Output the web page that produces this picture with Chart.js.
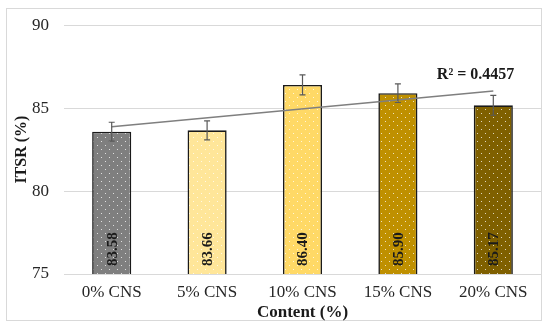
<!DOCTYPE html>
<html><head><meta charset="utf-8">
<script src="https://cdn.jsdelivr.net/npm/chart.js@4"></script>
<style>html,body{margin:0;padding:0;background:#fff}#wrap{width:550px;height:329px}</style>
</head><body><div id="wrap"><canvas id="c" width="550" height="329"></canvas></div>
<script>
const categories = ['0% CNS','5% CNS','10% CNS','15% CNS','20% CNS'];
const itsr = [83.58, 83.66, 86.40, 85.90, 85.17];
const errors = [0.57, 0.57, 0.6, 0.56, 0.6];
const trend = [83.88, null, null, null, 86.04];
const yTicks = [75, 80, 85, 90];
const r2Label = 'R² = 0.4457';
const barColors = ['#7f7f7f','#ffe699','#ffd966','#bf9000','#7f6000'];

function dotted(color){
  const t=document.createElement('canvas');t.width=8;t.height=8;
  const g=t.getContext('2d');g.fillStyle=color;g.fillRect(0,0,8,8);
  g.fillStyle='rgba(255,255,255,0.75)';g.fillRect(1,1,1,1);g.fillRect(5,5,1,1);
  return g.createPattern(t,'repeat');
}
const ctx0=document.getElementById('c').getContext('2d');
const patterns = barColors.map(dotted);

const extras = {
  id:'extras',
  beforeDraw(chart){
    const c=chart.ctx;c.save();c.strokeStyle='#d9d9d9';c.lineWidth=1;
    c.strokeRect(6.5,8.5,535,312);c.restore();
  },
  afterDatasetsDraw(chart){
    const c=chart.ctx, xs=chart.scales.x, ys=chart.scales.y;
    const meta=chart.getDatasetMeta(0);
    c.save();
    c.fillStyle='#1a1a1a';c.font='bold 15px "Liberation Serif"';
    meta.data.forEach((b,i)=>{
      c.save();c.translate(b.x, ys.bottom-8);c.rotate(-Math.PI/2);
      c.textAlign='left';c.textBaseline='middle';c.fillText(itsr[i].toFixed(2),0,1);c.restore();
    });
    c.strokeStyle='#595959';c.lineWidth=1.2;
    meta.data.forEach((b,i)=>{
      const t=ys.getPixelForValue(itsr[i]+errors[i]), bo=ys.getPixelForValue(itsr[i]-errors[i]);
      c.beginPath();c.moveTo(b.x,t);c.lineTo(b.x,bo);
      c.moveTo(b.x-3,t);c.lineTo(b.x+3,t);c.moveTo(b.x-3,bo);c.lineTo(b.x+3,bo);c.stroke();
    });
    c.fillStyle='#1a1a1a';c.font='bold 16px "Liberation Serif"';c.textAlign='right';c.textBaseline='middle';
    c.fillText(r2Label, xs.getPixelForValue(4)+21, ys.getPixelForValue(86.04)-16);
    c.restore();
  }
};

new Chart(ctx0,{
  data:{labels:categories,datasets:[
    {type:'line',data:trend,spanGaps:true,borderColor:'#7f7f7f',borderWidth:1.5,pointRadius:0,order:0},
    {type:'bar',data:itsr,backgroundColor:patterns,borderColor:'#1a1a1a',borderWidth:1.6,categoryPercentage:0.82,barPercentage:0.5,order:1}
  ]},
  options:{
    responsive:false,animation:false,
    layout:{padding:{left:0,right:9,top:24,bottom:0}},
    plugins:{legend:{display:false},tooltip:{enabled:false}},
    scales:{
      x:{grid:{display:false,drawTicks:false},border:{display:false},
        ticks:{color:'#262626',font:{family:'Liberation Serif',size:17},padding:8},
        title:{display:true,text:'Content (%)',color:'#1a1a1a',font:{family:'Liberation Serif',size:17,weight:'bold'},padding:{top:0,bottom:6}},
        afterFit(s){s.height=55;}},
      y:{min:75,max:90,afterBuildTicks(s){s.ticks=yTicks.map(v=>({value:v}));},
        grid:{color:'#d9d9d9',drawTicks:false},border:{display:false},
        ticks:{color:'#262626',font:{family:'Liberation Serif',size:17},padding:15},
        title:{display:true,text:'ITSR (%)',color:'#1a1a1a',font:{family:'Liberation Serif',size:16,weight:'bold'},padding:{top:12,bottom:0}},
        afterFit(s){s.width=64;}}
    }
  },
  plugins:[extras]
});
</script></body></html>
